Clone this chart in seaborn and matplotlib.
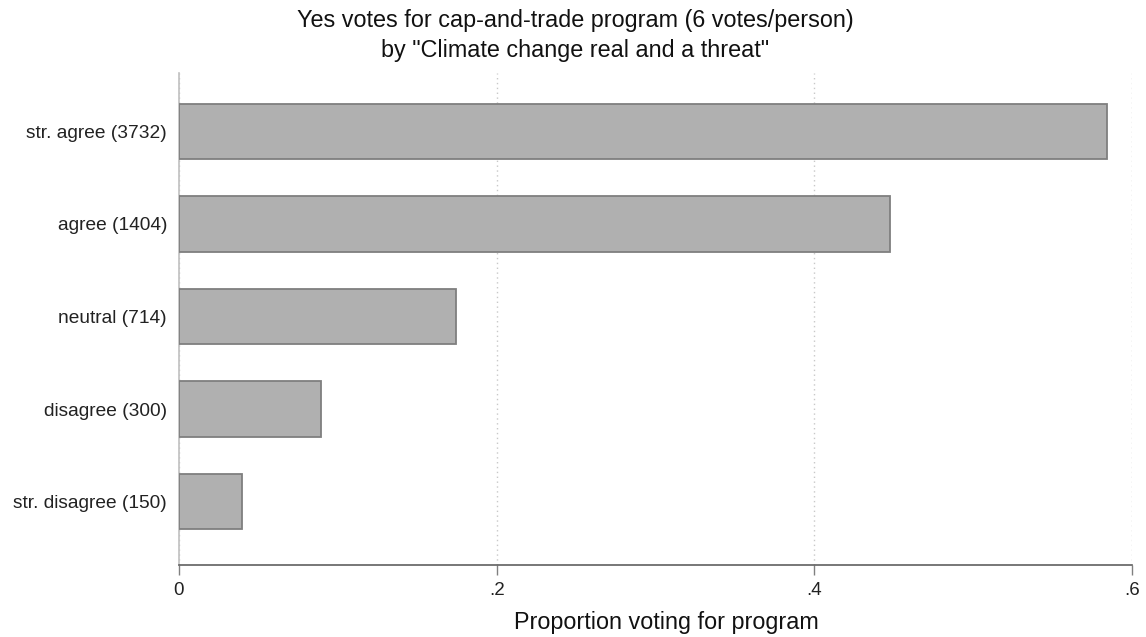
import matplotlib
matplotlib.use("Agg")
import matplotlib.pyplot as plt
import seaborn as sns
import pandas as pd

# Proportion of yes votes by response to "Climate change real and a threat"
categories = ["str. agree (3732)", "agree (1404)", "neutral (714)",
              "disagree (300)", "str. disagree (150)"]
proportions = [0.584, 0.4475, 0.1745, 0.0895, 0.0397]
x_ticks = [0, 0.2, 0.4, 0.6]
x_tick_labels = ["0", ".2", ".4", ".6"]
title_lines = ["Yes votes for cap-and-trade program (6 votes/person)",
               'by "Climate change real and a threat"']
x_title = "Proportion voting for program"

df = pd.DataFrame({"group": categories, "prop": proportions})

sns.set_theme(style="white")
plt.rcParams["font.family"] = ["Liberation Sans", "DejaVu Sans"]

W, H = 1146, 637
fig = plt.figure(figsize=(W / 100, H / 100), dpi=100)
ax = fig.add_axes([179 / W, 1 - 565 / H, (1132 - 179) / W, (565 - 73) / H])

sns.barplot(data=df, x="prop", y="group", order=categories, orient="h",
            color="#b0b0b0", saturation=1, width=0.595,
            edgecolor="#7f7f7f", linewidth=1.3, ax=ax, zorder=3)

ax.set_xlim(0, 0.6)
ax.set_ylim(4 + 0.686, -0.632)
ax.set_xticks(x_ticks)
ax.set_xticklabels(x_tick_labels, fontsize=13.5, color="#222222")
ax.tick_params(axis="x", bottom=True, length=7, width=1, color="#808080", pad=5)
ax.tick_params(axis="y", left=False, length=0, labelsize=13.8,
               labelcolor="#222222", pad=8.6)

for xv in x_ticks:
    ax.axvline(xv, color="#c8c8c8", linestyle=(0, (1, 2.5)), linewidth=1, zorder=1)

for side in ["top", "right"]:
    ax.spines[side].set_visible(False)
ax.spines["left"].set_color("#c0c0c0")
ax.spines["left"].set_linewidth(1.2)
ax.spines["bottom"].set_color("#606060")
ax.spines["bottom"].set_linewidth(1.2)

ax.set_ylabel("")
ax.set_xlabel("")

# Axis title and two-line chart title, placed by baseline
fig.text(666 / W, 1 - 629.5 / H, x_title, ha="center", va="baseline",
         fontsize=16.8, color="#111111")
fig.text(575 / W, 1 - 27.5 / H, title_lines[0], ha="center", va="baseline",
         fontsize=16.85, color="#111111")
fig.text(575 / W, 1 - 57.5 / H, title_lines[1], ha="center", va="baseline",
         fontsize=16.85, color="#111111")

fig.savefig("out.png", dpi=100, facecolor="white")
